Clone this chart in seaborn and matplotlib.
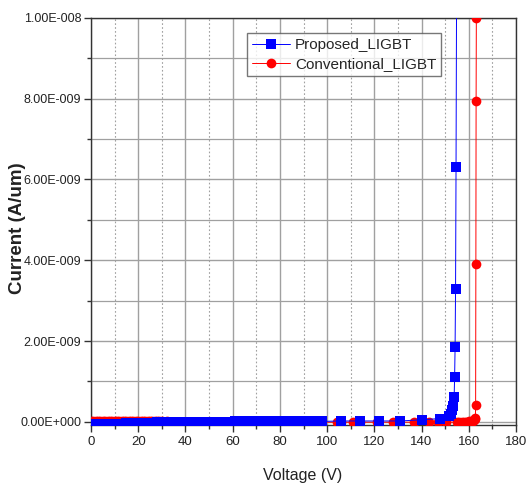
import matplotlib
matplotlib.use("Agg")
import matplotlib.pyplot as plt
import seaborn as sns
import pandas as pd
import numpy as np
from matplotlib.ticker import MultipleLocator, FuncFormatter

# ---------------- data ----------------
prop_v = [0, 1, 2, 3, 4, 5, 6, 7, 8, 9,
          10, 11, 12, 13, 14, 15, 16, 17, 18, 19,
          20, 21, 22, 23, 24, 25, 26, 27, 28, 29,
          30, 31, 32, 33, 34, 35, 36, 37, 38, 40,
          42, 44, 48, 51, 55, 58, 61, 62, 63, 66,
          69, 72, 76, 79, 82, 86, 90, 94, 98, 106,
          114, 122, 131, 140, 148, 151.5, 152.3, 152.8, 153.3, 153.8,
          154.0, 154.2, 154.4, 154.6, 154.9]
prop_i_e9 = [-0.05, -0.05, -0.05, -0.05, -0.05, -0.05, -0.05, -0.05, -0.05, -0.05,
             -0.05, -0.05, -0.05, -0.05, -0.05, -0.04, -0.04, -0.04, -0.04, -0.04,
             -0.03, -0.03, -0.03, -0.02, -0.02, -0.02, -0.02, -0.02, -0.01, -0.01,
             -0.01, -0.01, -0.01, -0.01, -0.01, -0.01, -0.01, -0.01, -0.01, 0.0,
             0.0, 0.0, 0.0, 0.0, 0.0, 0.0, 0.01, 0.01, 0.01, 0.01,
             0.01, 0.01, 0.01, 0.01, 0.01, 0.01, 0.01, 0.01, 0.01, 0.02,
             0.02, 0.02, 0.02, 0.05, 0.08, 0.15, 0.2, 0.3, 0.38, 0.62,
             1.1, 1.85, 3.3, 6.3, 12.0]

conv_v = [0, 1, 2, 3, 4, 5, 6, 7, 8, 9,
          10, 11, 12, 13, 14, 15, 16, 17, 18, 19,
          20, 21, 22, 23, 24, 25, 26, 27, 28, 29,
          30, 32, 35, 38, 41, 44, 47, 51, 55, 57,
          60, 64, 68, 72, 76, 80, 84, 88, 92, 97,
          104, 106, 111, 114, 121, 128, 137, 143, 147, 150.5,
          155, 156, 157, 158, 159, 160, 161, 161.8, 162.3, 162.6,
          162.8, 162.9, 163.0, 163.1, 163.2, 163.3]
conv_i_e9 = [0.03, 0.03, 0.03, 0.03, 0.03, 0.03, 0.03, 0.03, 0.03, 0.03,
             0.03, 0.03, 0.03, 0.03, 0.03, 0.03, 0.02, 0.02, 0.02, 0.02,
             0.02, 0.02, 0.02, 0.02, 0.02, 0.02, 0.02, 0.02, 0.02, 0.01,
             0.01, 0.01, 0.0, 0.0, 0.0, 0.0, 0.0, 0.0, 0.0, 0.0,
             0.0, 0.0, 0.0, 0.0, 0.0, 0.0, 0.0, 0.0, 0.0, -0.01,
             -0.01, -0.01, -0.01, -0.01, -0.01, -0.01, -0.01, -0.01, -0.01, -0.01,
             -0.01, -0.01, 0.0, 0.0, 0.0, 0.01, 0.02, 0.03, 0.05, 0.07,
             0.1, 0.42, 3.9, 7.95, 10.0, 12.0]

labels = ["Proposed_LIGBT", "Conventional_LIGBT"]

# ---------------- plot ----------------
sns.set_theme(style="white")
plt.rcParams["font.family"] = ["Liberation Sans", "DejaVu Sans"]

fig = plt.figure(figsize=(5.26, 4.86), dpi=100)
ax = fig.add_axes([0.173, 0.1255, 0.808, 0.8375])

df_p = pd.DataFrame({"V": prop_v, "I": np.array(prop_i_e9) * 1e-9})
df_c = pd.DataFrame({"V": conv_v, "I": np.array(conv_i_e9) * 1e-9})

sns.lineplot(data=df_c, x="V", y="I", ax=ax, color="#ff0000", marker="o",
             markersize=7, markeredgewidth=0, linewidth=0.7, sort=False,
             estimator=None, label=labels[1], zorder=3)
sns.lineplot(data=df_p, x="V", y="I", ax=ax, color="#0000ff", marker="s",
             markersize=6.5, markeredgewidth=0, linewidth=0.7, sort=False,
             estimator=None, label=labels[0], zorder=4)

ax.set_xlim(0, 180)
ax.set_ylim(-0.08e-9, 1.0e-8)
ax.xaxis.set_major_locator(MultipleLocator(20))
ax.xaxis.set_minor_locator(MultipleLocator(10))
ax.yaxis.set_major_locator(MultipleLocator(2e-9))
ax.yaxis.set_minor_locator(MultipleLocator(1e-9))


def yfmt(v, pos):
    if abs(v) < 1e-20:
        return "0.00E+000"
    exp = int(np.floor(np.log10(abs(v)) + 1e-9))
    mant = v / 10 ** exp
    sign = "-" if exp < 0 else "+"
    return f"{mant:.2f}E{sign}{abs(exp):03d}"


ax.yaxis.set_major_formatter(FuncFormatter(yfmt))

ax.grid(which="major", axis="both", color="#a0a0a0", linewidth=1.0, linestyle="-")
ax.grid(which="minor", axis="x", color="#a0a0a0", linewidth=0.8, linestyle=(0, (1.5, 2)))
ax.grid(which="minor", axis="y", color="#a0a0a0", linewidth=0.9, linestyle="-")
ax.set_axisbelow(True)

for s in ax.spines.values():
    s.set_color("#333333")
    s.set_linewidth(1.0)

ax.tick_params(axis="both", which="major", direction="out", length=5, width=1,
               colors="#333333", labelcolor="#222222", bottom=True, left=True)
ax.tick_params(axis="y", which="major", labelsize=9, pad=2)
ax.tick_params(axis="x", which="major", labelsize=9.5, pad=3)
ax.tick_params(axis="both", which="minor", direction="out", length=3, width=1,
               colors="#333333", bottom=True, left=True)

ax.set_xlabel("Voltage (V)", fontsize=11.5, color="#222222", va="center")
ax.xaxis.set_label_coords(0.498, -0.123)
ax.set_ylabel("Current (A/um)", fontsize=13.5, fontweight="bold", color="#222222",
              va="center")
ax.yaxis.set_label_coords(-0.174, 0.484)

handles, labs = ax.get_legend_handles_labels()
order = [labs.index(labels[0]), labs.index(labels[1])]
leg = ax.legend([handles[i] for i in order], [labs[i] for i in order],
                loc="upper left", bbox_to_anchor=(0.368, 0.962), fontsize=11,
                frameon=True, fancybox=False, edgecolor="#555555",
                handlelength=2.5, borderpad=0.3, labelspacing=0.35,
                handletextpad=0.3, borderaxespad=0)
leg.get_frame().set_linewidth(1.0)

fig.savefig("out.png", dpi=100)
